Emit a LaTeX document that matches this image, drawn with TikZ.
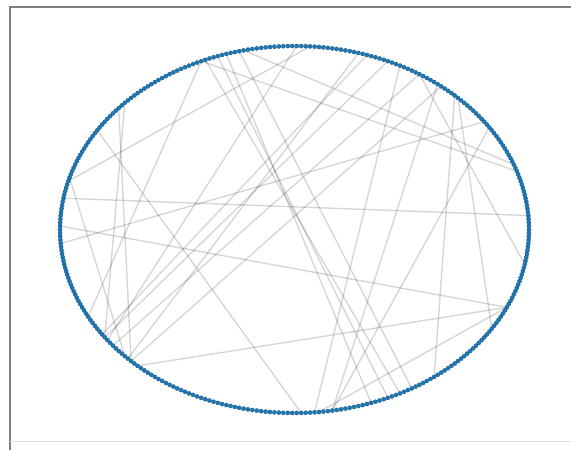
\documentclass[tikz,border=0pt]{standalone}
\usetikzlibrary{backgrounds}
\definecolor{mplblue}{HTML}{1F77B4}
\tikzset{
  dot/.style={circle, fill=mplblue, draw=mplblue!75!black, line width=0.3pt, inner sep=0pt, minimum size=4.2pt},
  edge/.style={draw=black, opacity=0.16, line width=1.4pt},
  frameline/.style={draw=black!50, line width=1.6pt}
}
\begin{document}
\begin{tikzpicture}[x=1pt,y=-1pt]
\useasboundingbox (0,0) rectangle (571,450);
\draw[frameline] (10,450) -- (10,7) -- (571,7);
\draw[draw=black!12, line width=1pt] (10,441) -- (571,441);
\def\N{330}
\foreach \i in {0,...,329}{
  \pgfmathsetmacro\ang{360/\N*\i}
  \node[dot] (d\i) at ({294.5+234.5*cos(\ang)}, {229.5-183.5*sin(\ang)}) {};
}
\begin{scope}[on background layer]
\foreach \ax/\ay/\bx/\by in {
  63/197/523/216, 63/225/500/303, 140/363/500/303, 320/411/500/303,
  63/243/485/122, 245/51/512/165, 200/62/518/172, 238/53/412/386,
  206/58/399/393, 216/56/388/396, 228/54/372/400, 97/130/300/411,
  313/411/398/65, 68/180/310/46, 113/333/385/62, 110/330/365/56,
  120/342/420/75, 135/356/440/85, 118/108/133/362, 125/104/116/332,
  200/62/88/315, 70/178/124/355, 455/96/436/376, 488/126/334/409,
  420/76/522/265, 430/90/333/410, 133/353/357/53, 117/335/296/46,
  458/100/491/330}{
  \pgfmathtruncatemacro\ia{mod(round(atan2((229.5-\ay)/183.5,(\ax-294.5)/234.5)/360*\N)+\N,\N)}
  \pgfmathtruncatemacro\ib{mod(round(atan2((229.5-\by)/183.5,(\bx-294.5)/234.5)/360*\N)+\N,\N)}
  \draw[edge] (d\ia.center) -- (d\ib.center);
}
\end{scope}
\end{tikzpicture}
\end{document}
